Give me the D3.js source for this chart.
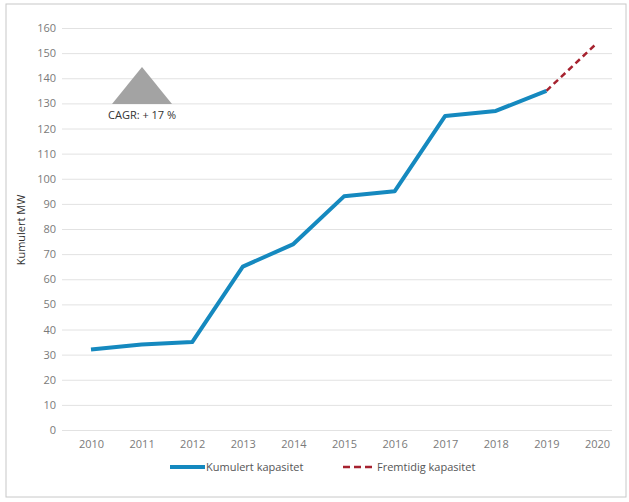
<!DOCTYPE html>
<html>
<head>
<meta charset="utf-8">
<script src="https://cdn.jsdelivr.net/npm/d3@7"></script>
<style>
  body { margin: 0; background: #fff; }
  text { font-family: "Open Sans", "Noto Sans", sans-serif; }
</style>
</head>
<body>
<div id="chart"></div>
<script>
// years and cumulative capacity (MW)
const years = [2010, 2011, 2012, 2013, 2014, 2015, 2016, 2017, 2018, 2019, 2020];
const kumulert = [32, 34, 35, 65, 74, 93, 95, 125, 127, 135, null];
const fremtidig = [null, null, null, null, null, null, null, null, null, 135, 154];
const yTicks = [0, 10, 20, 30, 40, 50, 60, 70, 80, 90, 100, 110, 120, 130, 140, 150, 160];

const width = 629, height = 502;
const margin = {top: 28, right: 17, bottom: 72, left: 62};

const svg = d3.select("#chart").append("svg")
    .attr("width", width)
    .attr("height", height);

// frame
svg.append("rect")
    .attr("x", 6).attr("y", 4)
    .attr("width", 620).attr("height", 493)
    .attr("fill", "none")
    .attr("stroke", "#c8c8c8")
    .attr("stroke-width", 1);

let x = d3.scalePoint()
    .domain(years)
    .range([91, 597]);

let y = d3.scaleLinear()
    .domain([0, 160])
    .range([height - margin.bottom, margin.top]);

// gridlines + y labels
let yAxis = d3.axisLeft(y)
    .tickValues(yTicks)
    .tickSize(-(width - margin.left - margin.right))
    .tickPadding(6);

let gy = svg.append("g")
    .attr("transform", "translate(" + margin.left + ",0)")
    .call(yAxis);
gy.select(".domain").remove();
gy.selectAll("line").attr("stroke", "#e2e2e2");
gy.selectAll("text")
    .attr("fill", "#7a7a7a")
    .style("font-size", "11px");

// x labels
let xAxis = d3.axisBottom(x).tickSize(0).tickPadding(10);
let gx = svg.append("g")
    .attr("transform", "translate(0," + y(0) + ")")
    .call(xAxis);
gx.select(".domain").remove();
gx.selectAll("text")
    .attr("fill", "#7a7a7a")
    .style("font-size", "11px");

// y title
svg.append("text")
    .attr("transform", "translate(25," + 230 + ") rotate(-90)")
    .attr("text-anchor", "middle")
    .attr("fill", "#333")
    .style("font-size", "11px")
    .text("Kumulert MW");

let line = d3.line()
    .defined(d => d != null)
    .x((d, i) => x(years[i]))
    .y(d => y(d));

svg.append("path")
    .datum(fremtidig)
    .attr("d", line)
    .attr("fill", "none")
    .attr("stroke", "#a6222f")
    .attr("stroke-width", 2.5)
    .attr("stroke-dasharray", "6,4");

svg.append("path")
    .datum(kumulert)
    .attr("d", line)
    .attr("fill", "none")
    .attr("stroke", "#1589bf")
    .attr("stroke-width", 4)
    .attr("stroke-linejoin", "round");

// CAGR marker
svg.append("path")
    .attr("d", "M142,67 L172,104 L112,104 Z")
    .attr("fill", "#a3a3a3");
svg.append("text")
    .attr("x", 108).attr("y", 119)
    .attr("fill", "#333")
    .style("font-size", "11px")
    .text("CAGR: + 17 %");

// legend
let lg = svg.append("g");
lg.append("line")
    .attr("x1", 170).attr("x2", 205).attr("y1", 467).attr("y2", 467)
    .attr("stroke", "#1589bf").attr("stroke-width", 4);
lg.append("text")
    .attr("x", 206).attr("y", 471)
    .attr("fill", "#555").style("font-size", "11px")
    .text("Kumulert kapasitet");
lg.append("line")
    .attr("x1", 343).attr("x2", 372).attr("y1", 467).attr("y2", 467)
    .attr("stroke", "#a6222f").attr("stroke-width", 2.5)
    .attr("stroke-dasharray", "7,4");
lg.append("text")
    .attr("x", 377).attr("y", 471)
    .attr("fill", "#555").style("font-size", "11px")
    .text("Fremtidig kapasitet");
</script>
</body>
</html>
